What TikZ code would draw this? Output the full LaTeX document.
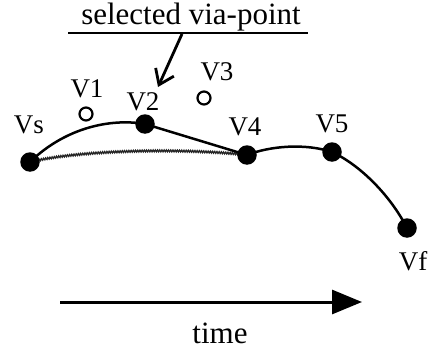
\documentclass[tikz,border=0pt]{standalone}
\usepackage{fontspec}
\setmainfont{Liberation Serif}
\usetikzlibrary{arrows.meta,decorations.pathmorphing}
\begin{document}
\begin{tikzpicture}[x=1pt,y=-1pt,
  dot/.style={circle,fill=black,inner sep=0pt,minimum size=19.5pt},
  hollow/.style={circle,draw=black,line width=2.2pt,inner sep=0pt,minimum size=13pt},
  vlabel/.style={anchor=base,inner sep=0pt,font=\fontsize{27}{27}\selectfont},
  biglabel/.style={anchor=base,inner sep=0pt,font=\fontsize{31}{31}\selectfont},
  traj/.style={line width=2.5pt},
  wavy/.style={line width=1.3pt,black!85,decorate,decoration={snake,amplitude=0.9pt,segment length=2.2pt}}]
\useasboundingbox (0,0) rectangle (428,361);
% labels
\node[biglabel] (sel) at (191,25) {selected via-point};
\node[biglabel] (time) at (220,343) {time};
\node[vlabel] (lvs) at (29,133) {Vs};
\node[vlabel] (lv1) at (87,97) {V1};
\node[vlabel] (lv2) at (143,110) {V2};
\node[vlabel] (lv3) at (217,80) {V3};
\node[vlabel] (lv4) at (245,135) {V4};
\node[vlabel] (lv5) at (332,132) {V5};
\node[vlabel] (lvf) at (413,270) {Vf};
% underline and pointer
\coordinate (ul1) at (68,33);
\coordinate (ul2) at (308,33);
\coordinate (ptr) at (182,34);
\coordinate (tip) at (158,87);
\draw[line width=2.2pt] (ul1) -- (ul2);
\draw[line width=2.8pt,-{Straight Barb[length=14pt,width=20pt,line width=2.8pt]}] (ptr) -- (tip);
% points
\coordinate (cvs) at (30,162);
\coordinate (cv2) at (145,124);
\coordinate (cv4) at (247,155);
\coordinate (cv5) at (332,152);
\coordinate (cvf) at (407,228);
% wavy original trajectory
\draw[wavy] (cvs) .. controls (80,150) and (180,148) .. (cv4);
% solid trajectory
\draw[traj] (cvs) .. controls (65,128) and (110,118) .. (cv2);
\draw[traj] (cv2) -- (cv4);
\draw[traj] (cv4) .. controls (270,146) and (305,143) .. (cv5);
\draw[traj] (cv5) .. controls (360,165) and (390,195) .. (cvf);
\node[dot] (vs) at (cvs) {};
\node[dot] (v2) at (cv2) {};
\node[dot] (v4) at (cv4) {};
\node[dot] (v5) at (cv5) {};
\node[dot] (vf) at (cvf) {};
\node[hollow] (v1) at (86,114) {};
\node[hollow] (v3) at (204,98) {};
% time arrow
\coordinate (ta) at (60,302);
\coordinate (tb) at (362,302);
\draw[line width=3pt,-{Triangle[length=30pt,width=24pt]}] (ta) -- (tb);
\end{tikzpicture}
\end{document}
